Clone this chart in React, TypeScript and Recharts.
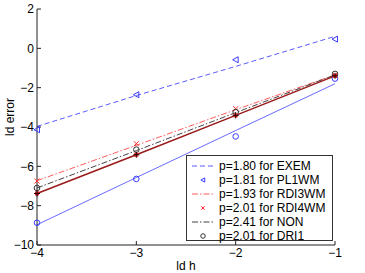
import { ComposedChart, Line, XAxis, YAxis, Legend } from "recharts";

// ld h positions
const ldH = [-4, -3, -2, -1];

const exemFit = [-3.97, -2.4, -0.92, 0.61];
const pl1wm = [-4.14, -2.36, -0.58, 0.47];
const rdi3wmFit = [-6.73, -4.93, -3.12, -1.35];
const rdi4wm = [-6.75, -4.85, -3.07, -1.35];
const nonFit = [-7.1, -5.2, -3.27, -1.35];
const dri1 = [-7.1, -5.15, -3.24, -1.3];
const blueFit = [-8.97, -6.57, -4.18, -1.8];
const bluePts = [-8.87, -6.64, -4.48, -1.54];
const darkRed = [-7.38, -5.41, -3.41, -1.4];

const xTicks = [-4, -3, -2, -1];
const yTicks = [-10, -8, -6, -4, -2, 0, 2];

const legendItems = [
  { label: "p=1.80 for EXEM", kind: "dash", color: "#5b5bff" },
  { label: "p=1.81 for PL1WM", kind: "tri", color: "#3a3aff" },
  { label: "p=1.93 for RDI3WM", kind: "dashdot", color: "#ff5a5a" },
  { label: "p=2.01 for RDI4WM", kind: "x", color: "#ff3030" },
  { label: "p=2.41 for NON", kind: "dashdotk", color: "#444" },
  { label: "p=2.01 for DRI1", kind: "circle", color: "#333" },
];

const data = ldH.map((x, i) => ({
  x,
  exemFit: exemFit[i],
  pl1wm: pl1wm[i],
  rdi3wmFit: rdi3wmFit[i],
  rdi4wm: rdi4wm[i],
  nonFit: nonFit[i],
  dri1: dri1[i],
  blueFit: blueFit[i],
  bluePts: bluePts[i],
  darkRed: darkRed[i],
}));

const FONT = '"Liberation Sans", Arial, Helvetica, sans-serif';
const minus = (v: number) => String(v).replace("-", "\u2212");

function Tri(props: any) {
  const { cx, cy, index, stroke, s = 1 } = props;
  if (cx == null || cy == null) return <g key={index} />;
  return (
    <path
      key={index}
      d={`M${cx - 3 * s},${cy} L${cx + 2.5 * s},${cy - 3 * s} L${cx + 2.5 * s},${cy + 3 * s} Z`}
      fill="none"
      stroke={stroke}
      strokeWidth={1}
    />
  );
}

function Circ(props: any) {
  const { cx, cy, index, stroke, s = 1 } = props;
  if (cx == null || cy == null) return <g key={index} />;
  return <circle key={index} cx={cx} cy={cy} r={2.8 * s} fill="none" stroke={stroke} strokeWidth={1} />;
}

function Cross(props: any) {
  const { cx, cy, index, stroke, s = 1 } = props;
  if (cx == null || cy == null) return <g key={index} />;
  const d = 2.5 * s;
  return (
    <path
      key={index}
      d={`M${cx - d},${cy - d} L${cx + d},${cy + d} M${cx - d},${cy + d} L${cx + d},${cy - d}`}
      stroke={stroke}
      strokeWidth={1}
    />
  );
}

function Star(props: any) {
  const { cx, cy, index } = props;
  if (cx == null || cy == null) return <g key={index} />;
  return (
    <g key={index}>
      <rect x={cx - 2} y={cy - 2} width={4} height={4} fill="#e02020" />
      <path
        d={`M${cx - 3},${cy} L${cx + 3},${cy} M${cx},${cy - 3} L${cx},${cy + 3}`}
        stroke="#200"
        strokeWidth={1}
      />
    </g>
  );
}

function LegendBox() {
  return (
    <div
      style={{
        border: "1px solid #333",
        background: "#fff",
        width: 145,
        height: 81,
        boxSizing: "content-box",
        fontFamily: FONT,
        fontSize: 12,
        color: "#000",
        paddingTop: 3,
      }}
    >
      {legendItems.map((it) => (
        <div key={it.label} style={{ display: "flex", alignItems: "center", height: 14 }}>
          <svg width={31} height={14} style={{ flex: "none" }}>
            {it.kind === "dash" && (
              <line x1={5} y1={7} x2={27} y2={7} stroke={it.color} strokeDasharray="5 3" />
            )}
            {it.kind === "dashdot" && (
              <line x1={5} y1={7} x2={27} y2={7} stroke={it.color} strokeDasharray="6 2 1.5 2" />
            )}
            {it.kind === "dashdotk" && (
              <line x1={5} y1={7} x2={27} y2={7} stroke={it.color} strokeDasharray="6 2 1.5 2" />
            )}
            {it.kind === "tri" && <Tri cx={16} cy={7} index={0} stroke={it.color} s={0.7} />}
            {it.kind === "x" && <Cross cx={16} cy={7} index={0} stroke={it.color} s={0.7} />}
            {it.kind === "circle" && <Circ cx={16} cy={7} index={0} stroke={it.color} s={0.8} />}
          </svg>
          <span style={{ marginLeft: 1, whiteSpace: "nowrap" }}>{it.label}</span>
        </div>
      ))}
    </div>
  );
}

export default function App() {
  const tickStyle = { fontSize: 12, fontFamily: FONT, fill: "#000" };
  return (
    <div style={{ position: "absolute", left: 0, top: 0, width: 365, height: 273, background: "#fff" }}>
      <ComposedChart width={365} height={273} data={data} margin={{ top: 9, right: 30, left: 0, bottom: 0 }}>
        <XAxis
          dataKey="x"
          type="number"
          domain={[-4, -1]}
          ticks={xTicks}
          tickFormatter={minus}
          height={28}
          tick={tickStyle}
          tickSize={-4}
          tickMargin={7}
          stroke="#222"
          label={{ value: "ld h", position: "insideBottom", offset: 3, style: { fontSize: 12, fontFamily: FONT, fill: "#000" } }}
        />
        <XAxis
          xAxisId="top"
          orientation="top"
          dataKey="x"
          type="number"
          domain={[-4, -1]}
          ticks={xTicks}
          height={0}
          tick={false}
          tickSize={-4}
          stroke="#222"
        />
        <YAxis
          type="number"
          domain={[-10, 2]}
          ticks={yTicks}
          tickFormatter={minus}
          width={37}
          tick={tickStyle}
          tickSize={-4}
          tickMargin={7}
          stroke="#222"
          label={{
            content: () => (
              <text
                x={10}
                y={117}
                transform="rotate(-90 10 117)"
                textAnchor="middle"
                dominantBaseline="central"
                style={{ fontSize: 12, fontFamily: FONT, fill: "#000" }}
              >
                ld error
              </text>
            ),
          }}
        />
        <YAxis
          yAxisId="right"
          orientation="right"
          type="number"
          domain={[-10, 2]}
          ticks={yTicks}
          width={0}
          tick={false}
          tickSize={-4}
          stroke="#222"
        />
        <Line dataKey="exemFit" stroke="#5b5bff" strokeWidth={1} strokeDasharray="5 3" dot={false} isAnimationActive={false} />
        <Line dataKey="pl1wm" stroke="#3a3aff" strokeWidth={0} dot={<Tri stroke="#3a3aff" />} isAnimationActive={false} />
        <Line dataKey="blueFit" stroke="#6a6aff" strokeWidth={1} dot={false} isAnimationActive={false} />
        <Line dataKey="bluePts" stroke="#3a3aff" strokeWidth={0} dot={<Circ stroke="#3a3aff" />} isAnimationActive={false} />
        <Line dataKey="rdi3wmFit" stroke="#ff5a5a" strokeWidth={1} strokeDasharray="6 2 1.5 2" dot={false} isAnimationActive={false} />
        <Line dataKey="rdi4wm" stroke="#ff3030" strokeWidth={0} dot={<Cross stroke="#ff3030" />} isAnimationActive={false} />
        <Line dataKey="nonFit" stroke="#444" strokeWidth={1} strokeDasharray="6 2 1.5 2" dot={false} isAnimationActive={false} />
        <Line dataKey="dri1" stroke="#333" strokeWidth={0} dot={<Circ stroke="#333" />} isAnimationActive={false} />
        <Line dataKey="darkRed" stroke="#9a1a1a" strokeWidth={1.5} dot={<Star />} isAnimationActive={false} />
        <Legend
          layout="horizontal"
          verticalAlign="middle"
          align="center"
          content={() => <LegendBox />}
          wrapperStyle={{ position: "absolute", left: 186, top: 155, width: 147, height: 86 }}
        />
      </ComposedChart>
    </div>
  );
}
